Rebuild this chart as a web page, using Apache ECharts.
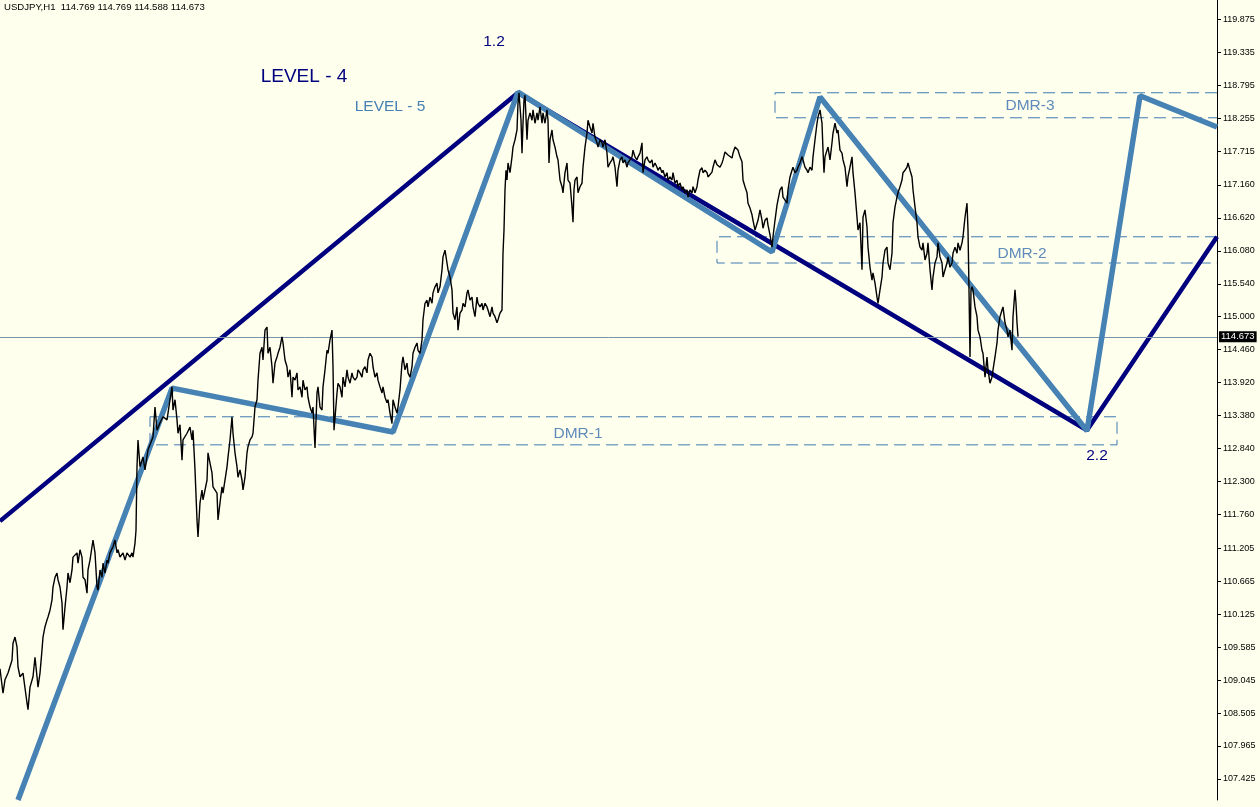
<!DOCTYPE html>
<html><head><meta charset="utf-8">
<script src="https://cdn.jsdelivr.net/npm/echarts@6/dist/echarts.min.js"></script>
<style>html,body{margin:0;padding:0;background:#FFFFEE;}#c{width:1260px;height:807px;}</style>
</head><body><div id="c"></div>
<script>
// ---------------- data ----------------
const symbolTitle = 'USDJPY,H1  114.769 114.769 114.588 114.673';
const lastClose = 114.673;
const yMin = 107.08, yMax = 120.19, xMax = 1217;
const yTicks = [119.875,119.335,118.795,118.255,117.715,117.160,116.620,116.080,115.540,115.000,114.460,113.920,113.380,112.840,112.300,111.760,111.205,110.665,110.125,109.585,109.045,108.505,107.965,107.425];

// hourly closes: [bar index, price]
const closesA = [[0,109.23],[3,108.83],[5,109.05],[8,109.16],[12,109.37],[13,109.65],[15,109.75],[17,109.59],[18,109.26],[20,109.10],[23,109.16],[27,108.67],[28,108.56],[30,108.93],[33,109.10],[35,109.42],[37,109.10],[38,108.93],[40,109.16],[42,109.54],[43,109.75],[45,109.92],[47,110.03],[48,110.08],[50,110.19],[52,110.36],[53,110.57],[55,110.73],[57,110.80],[58,110.69],[60,110.57],[62,110.31],[63,109.87],[65,110.24],[67,110.57],[68,110.80],[70,110.64],[72,110.85],[73,111.06],[77,111.13],[78,110.96],[80,111.18],[82,111.06],[83,110.73],[85,110.69],[87,110.47],[88,110.85],[90,111.01],[92,111.23],[93,111.34],[95,111.13],[97,110.57],[98,110.52],[100,110.85],[102,110.73],[103,110.96],[105,110.80],[107,111.01],[108,110.96],[110,111.13],[113,111.23],[115,111.34],[117,111.13],[118,111.18],[120,111.06],[123,111.13],[125,111.01],[127,111.13],[130,111.06],[132,111.13],[133,111.06],[135,111.29],[136,111.50]];
const closesB = [[137,112.54],[138,112.98],[140,112.54],[143,112.70],[145,112.49],[148,112.82],[150,112.90],[153,113.03],[155,113.52],[157,113.14],[160,113.26],[163,113.36],[167,113.31],[170,113.64],[172,113.85],[173,113.47],[175,113.64],[177,113.31],[178,113.09],[180,113.23],[182,112.65],[183,112.98],[187,113.09],[190,113.19],[192,112.98],[193,113.14],[195,112.49],[197,111.67],[198,111.39],[200,111.95],[202,112.16],[203,112.00],[207,112.32],[208,112.77],[210,112.60],[212,112.44],[213,112.21],[217,112.11],[218,111.67],[220,111.95],[222,112.21],[223,112.11],[227,112.54],[228,112.70],[230,112.98],[232,113.36],[233,113.09],[235,112.77],[237,112.54],[238,112.37],[240,112.49],[242,112.32],[243,112.16],[245,112.37],[247,112.77],[248,112.87],[250,112.98],[252,113.03],[253,113.09],[255,113.52],[257,113.64],[258,113.96],[260,114.40]];
const closesC = [[262,114.50],[263,114.29],[265,114.78],[267,114.83],[268,114.40],[270,114.50],[272,114.18],[273,113.91],[275,114.24],[277,114.34],[278,114.40],[280,114.50],[282,114.67],[283,114.57],[285,114.29],[287,114.18],[288,114.01],[290,114.13],[292,113.68],[293,114.01],[295,113.96],[297,114.08],[298,113.80],[300,113.85],[302,113.68],[303,113.96],[305,113.80],[307,113.85],[308,113.68],[310,113.52],[312,113.42],[313,113.52],[315,112.85],[317,113.75],[318,113.85],[320,113.52],[322,113.47],[323,113.85],[325,114.13],[327,114.45],[328,114.40],[330,114.62],[332,114.78],[333,114.18],[334,113.14],[337,113.75],[338,113.91],[340,113.85],[342,113.68],[343,114.01],[345,113.85],[347,114.13],[348,114.01],[350,113.91],[352,114.08],[353,114.01],[355,113.96],[357,114.01],[358,114.13],[360,114.08],[362,114.01],[363,114.13],[365,114.18],[367,114.08],[368,114.29],[370,114.40],[372,114.34],[373,114.18],[375,114.01],[377,114.08],[378,113.96],[380,113.85],[382,113.75],[383,113.85],[385,113.68],[387,113.59],[388,113.64],[390,113.42],[392,113.25],[393,113.64],[395,113.52],[397,113.42],[398,113.52],[400,113.80],[402,114.24],[403,114.34],[405,114.13],[407,114.24],[408,114.08],[410,114.01],[412,114.18],[413,114.40],[415,114.50],[417,114.57],[418,114.45],[420,114.40],[422,114.62],[423,114.95],[425,115.22],[427,115.27],[428,115.16],[430,115.32],[432,115.22],[433,115.39],[435,115.49],[437,115.55],[438,115.39],[440,115.49],[442,115.77],[443,115.98],[445,116.09],[447,115.88],[448,115.77],[450,115.65],[452,115.44],[453,115.06],[455,114.95],[457,115.16],[458,114.78],[460,115.06],[462,115.11],[463,115.22],[465,115.16],[467,115.39],[468,115.44],[470,115.27],[472,115.32],[473,115.16],[475,115.00],[477,115.32],[478,115.22],[480,115.16],[482,115.22],[483,115.11],[485,115.22],[487,115.16],[488,115.11],[490,115.00],[492,115.16],[493,115.06],[495,115.00],[497,114.90],[498,114.95],[500,115.06],[502,115.11],[503,116.04],[504,116.42],[505,117.08]];
const closesD = [[506,117.40],[507,117.24],[508,117.52],[510,117.36],[512,117.62],[513,117.78],[515,117.90],[517,118.06],[518,118.50],[519,118.67],[521,118.22],[522,117.68],[523,118.17],[524,118.55],[525,118.63],[526,118.27],[527,117.90],[528,118.22],[530,118.34],[532,118.22],[533,118.39],[535,118.17],[537,118.34],[538,118.22],[540,118.44],[542,118.17],[543,118.34],[545,118.17],[547,118.39],[548,118.22],[549,117.52],[550,117.90],[552,118.06],[553,117.90],[555,117.78],[557,117.62],[558,117.57],[560,117.24],[562,117.13],[563,117.03],[565,117.36],[567,117.52],[568,117.24],[570,117.19],[572,116.80],[573,116.55],[574,117.08],[575,117.24],[577,117.29],[578,117.03],[580,117.13],[582,117.19],[583,117.45],[585,117.78],[587,118.01],[588,118.22],[590,118.11],[592,118.01],[593,118.17],[595,117.94],[597,117.85],[598,117.78],[600,117.90],[602,117.85],[603,117.78],[605,117.90],[607,117.68],[608,117.45],[610,117.52],[612,117.57],[613,117.62],[615,117.45],[617,117.13],[618,117.40],[620,117.57],[622,117.62],[623,117.52],[625,117.57],[627,117.45],[628,117.52],[630,117.57],[632,117.62],[633,117.73],[635,117.62],[637,117.57],[638,117.62],[640,117.68],[642,117.85],[643,117.36],[645,117.57],[647,117.62],[648,117.57],[650,117.52],[652,117.57],[653,117.45],[655,117.52],[657,117.45],[658,117.40],[660,117.45],[662,117.36],[663,117.40],[665,117.29],[667,117.36],[668,117.24],[670,117.29],[672,117.24],[673,117.36],[675,117.19],[677,117.24],[678,117.13],[680,117.19],[682,117.08],[683,117.13],[685,117.03],[687,117.08],[688,116.96],[690,117.08],[692,117.03],[693,117.13],[695,117.03],[697,117.13],[698,117.24],[700,117.40]];
const closesE = [[702,117.44],[703,117.36],[705,117.40],[707,117.36],[708,117.29],[710,117.29],[712,117.37],[713,117.45],[715,117.57],[717,117.49],[718,117.52],[720,117.45],[722,117.52],[723,117.57],[725,117.70],[727,117.73],[728,117.65],[730,117.62],[732,117.60],[733,117.68],[735,117.78],[737,117.81],[738,117.73],[740,117.62],[742,117.54],[743,117.24],[745,117.13],[747,117.03],[748,116.86],[750,116.78],[752,116.67],[753,116.58],[755,116.42],[757,116.39],[758,116.58],[760,116.75],[762,116.58],[763,116.45],[765,116.58],[767,116.62],[768,116.50],[770,116.34],[772,116.14],[773,116.31],[775,116.58],[777,116.83],[778,116.80],[780,117.08],[782,117.13],[783,116.96],[785,116.91],[787,116.86],[788,117.08],[790,117.29],[792,117.40],[793,117.45],[795,117.36],[797,117.40],[798,117.45],[800,117.52],[802,117.62],[803,117.57],[805,117.45],[807,117.40],[808,117.36],[810,117.45],[812,117.40],[813,117.62],[815,117.90],[817,118.17],[818,118.27],[820,118.39],[822,118.17],[823,117.73],[824,117.36],[825,117.62],[827,117.73],[828,117.78],[830,117.57],[832,117.85],[833,118.01],[835,118.17],[837,118.01],[838,118.06],[840,117.73],[842,117.68],[843,117.57],[845,117.45],[847,117.13],[848,117.29],[850,117.45],[852,117.62],[853,117.36],[855,117.03],[857,116.63],[858,116.42],[860,116.54],[862,115.77],[863,116.63],[865,116.75],[867,116.47],[868,116.14],[870,115.81],[872,115.60],[873,115.72],[875,115.55],[877,115.32],[878,115.22],[880,115.44],[882,115.65],[883,115.88],[885,116.09],[887,116.14],[888,115.88],[890,115.77],[892,116.04],[893,116.54],[895,116.80],[897,116.96],[898,117.03],[900,117.13],[902,117.24],[903,117.36],[905,117.40],[907,117.45],[908,117.52],[910,117.40],[912,117.29],[913,117.08],[915,116.80],[917,116.54],[918,116.31],[920,116.14],[922,116.09],[923,116.21],[925,115.93],[927,116.04],[928,116.21],[930,115.77],[932,115.44],[933,115.65],[935,115.88],[937,115.98],[938,116.21],[940,115.98],[942,115.88],[943,115.65],[945,115.77],[947,115.88],[948,115.98],[950,115.81],[952,115.88],[953,116.04],[955,116.14],[957,116.04],[958,116.21],[960,116.09],[962,116.21],[963,116.31],[965,116.63],[967,116.86],[968,116.42],[969,115.44],[970,114.34],[971,115.44],[972,115.49],[973,115.44],[975,115.16],[977,115.00],[978,114.78],[980,114.67],[982,114.45],[983,114.40],[985,114.01],[987,114.34],[988,114.13],[990,113.91],[992,114.01],[993,114.13],[995,114.34],[997,114.57],[998,114.78],[1000,115.00],[1002,115.11],[1003,115.16],[1005,114.90],[1007,114.78],[1008,114.67],[1010,114.78],[1012,114.45],[1013,115.00],[1015,115.44],[1016,115.22],[1017,114.90],[1018,114.673]];

// wave lines
const level4 = [[0,111.65],[518,118.67],[1087,113.14],[1217,116.31]];
const level5 = [[18,107.08],[172,113.83],[393,113.11],[518,118.68],[772,116.06],[820,118.60],[1087,113.13],[1140,118.62],[1217,118.11]];
// DMR zones
const dmr1 = [[150,113.36],[1117,113.36],[1117,112.90],[150,112.90],[150,113.36]];
const dmr2 = [[1217,116.31],[717,116.31],[717,115.88],[1217,115.88]];
const dmr3 = [[1217,118.67],[775,118.67],[775,118.26],[1217,118.26]];
// text annotations
const annoText = ['LEVEL - 4','LEVEL - 5','1.2','2.2','DMR-1','DMR-2','DMR-3'];
const annoX    = [304, 390, 494, 1097, 578, 1022, 1030];
const annoY    = [118.94, 118.44, 119.50, 112.72, 113.08, 116.04, 118.45];

// ---------------- chart ----------------
const NAVY = '#00007F', STEEL = '#4682B4', DMRC = '#5F8BBA';
const annoStyle = [
  {color: NAVY, fontSize: 19},
  {color: '#4682B4', fontSize: 15.5},
  {color: NAVY, fontSize: 15.5},
  {color: NAVY, fontSize: 15.5},
  {color: DMRC, fontSize: 15.5},
  {color: DMRC, fontSize: 15.5},
  {color: DMRC, fontSize: 15.5}
];
const closes = closesA.concat(closesB, closesC, closesD, closesE);
const chart = echarts.init(document.getElementById('c'), null, {renderer: 'canvas'});
const boxSeries = (d) => ({
  type: 'line', data: d, symbol: 'none', silent: true, z: 3,
  lineStyle: {color: '#3F7AB0', width: 1, type: [12, 6]}
});
chart.setOption({
  animation: false,
  backgroundColor: '#FFFFEE',
  title: {text: symbolTitle, left: 4, top: 2, padding: 0,
    textStyle: {fontFamily: 'Liberation Sans', fontSize: 9.6, fontWeight: 'normal', color: '#000'}},
  grid: {left: 0, right: 43, top: 0, bottom: 7, containLabel: false},
  xAxis: {type: 'value', min: 0, max: xMax, show: false},
  yAxis: {
    type: 'value', position: 'right', min: yMin, max: yMax,
    axisLine: {show: true, onZero: false, lineStyle: {color: '#000', width: 1}},
    axisTick: {show: true, inside: false, length: 4, lineStyle: {color: '#000'}, customValues: yTicks},
    axisLabel: {show: true, inside: false, margin: 6, color: '#000', fontFamily: 'Liberation Sans', fontSize: 9,
      customValues: yTicks, formatter: v => Number(v).toFixed(3)},
    splitLine: {show: false}
  },
  series: [
    {
      type: 'line', data: [], symbol: 'none', z: 1,
      markLine: {
        silent: true, symbol: 'none', animation: false,
        lineStyle: {color: '#7A94AE', width: 1, type: 'solid'},
        label: {show: true, position: 'end', distance: 2, formatter: lastClose.toFixed(3),
          color: '#fff', backgroundColor: '#000', padding: [1, 2, 0, 2],
          fontFamily: 'Liberation Sans', fontSize: 9.5},
        data: [{yAxis: lastClose}]
      }
    },
    boxSeries(dmr1), boxSeries(dmr2), boxSeries(dmr3),
    {type: 'line', data: level4, symbol: 'none', z: 4, lineStyle: {color: NAVY, width: 4.5}},
    {type: 'line', data: level5, symbol: 'none', z: 5, lineStyle: {color: STEEL, width: 5.5}},
    {type: 'line', data: closes, symbol: 'none', z: 6, lineStyle: {color: '#000', width: 1.4}},
    {
      type: 'scatter', z: 7, symbolSize: 1, silent: true,
      itemStyle: {color: 'rgba(0,0,0,0)', opacity: 1},
      data: annoText.map((t, i) => ({
        value: [annoX[i], annoY[i]], name: t,
        label: Object.assign({show: true, position: 'inside', formatter: t, opacity: 1,
          fontFamily: 'Liberation Sans', fontWeight: 'normal'}, annoStyle[i])
      }))
    }
  ]
});
</script></body></html>
